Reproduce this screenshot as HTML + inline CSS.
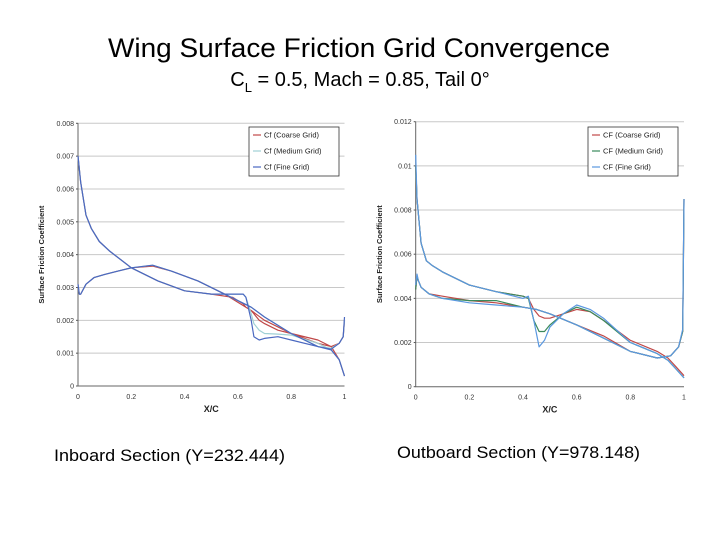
<!DOCTYPE html>
<html><head><meta charset="utf-8">
<style>
html,body{margin:0;padding:0;background:#fff;}
svg{display:block;font-family:"Liberation Sans",sans-serif;}
</style></head>
<body>
<svg id="root" width="720" height="540" viewBox="0 0 720 540" xmlns="http://www.w3.org/2000/svg">
<rect width="720" height="540" fill="#fff"/>
<text x="108" y="57" font-size="27" textLength="502" lengthAdjust="spacingAndGlyphs" fill="#000">Wing Surface Friction Grid Convergence</text>
<text x="360" y="86" font-size="20" text-anchor="middle" fill="#000">C<tspan font-size="13" dy="6">L</tspan><tspan dy="-6"> = 0.5, Mach = 0.85, Tail 0°</tspan></text>
<text x="54" y="461" font-size="17" textLength="231" lengthAdjust="spacingAndGlyphs" fill="#000">Inboard Section (Y=232.444)</text>
<text x="397" y="458" font-size="17" textLength="243" lengthAdjust="spacingAndGlyphs" fill="#000">Outboard Section (Y=978.148)</text>
<g id="chartL"></g>
<g id="chartR"></g>
</svg>
<script>
// ---- Inboard data ----
const inUpperX = [0,0.01,0.03,0.05,0.08,0.12,0.2,0.3,0.4,0.5,0.58,0.6,0.62,0.63,0.65,0.66,0.68,0.7,0.75,0.8,0.9,0.95,0.98,1.0];
const inUpperCoarse = [0.0070,0.0062,0.0052,0.0048,0.0044,0.0041,0.0036,0.0032,0.0029,0.0028,0.0027,0.0026,0.0025,0.0024,0.0023,0.0022,0.0020,0.0019,0.0017,0.0016,0.0014,0.0012,0.0008,0.0003];
const inUpperMedium = [0.0070,0.0062,0.0052,0.0048,0.0044,0.0041,0.0036,0.0032,0.0029,0.0028,0.0028,0.0028,0.0028,0.0027,0.0022,0.0019,0.0017,0.0016,0.00158,0.00155,0.0013,0.0011,0.0008,0.0003];
const inUpperFine = [0.0070,0.0062,0.0052,0.0048,0.0044,0.0041,0.0036,0.0032,0.0029,0.0028,0.0028,0.0028,0.0028,0.0027,0.0020,0.0015,0.0014,0.00145,0.0015,0.0014,0.0012,0.0011,0.0008,0.0003];
const inLowerX = [0,0.005,0.01,0.03,0.06,0.1,0.15,0.2,0.28,0.35,0.45,0.55,0.65,0.7,0.8,0.9,0.95,0.98,0.995,1];
const inLowerCoarse = [0.0031,0.0028,0.0028,0.0031,0.0033,0.0034,0.0035,0.0036,0.00365,0.0035,0.0032,0.0028,0.0023,0.0020,0.0016,0.0013,0.0012,0.0013,0.0015,0.0020];
const inLowerMedium = [0.0031,0.0028,0.0028,0.0031,0.0033,0.0034,0.0035,0.0036,0.00368,0.0035,0.0032,0.0028,0.0024,0.0021,0.0016,0.0012,0.00115,0.0013,0.0015,0.0020];
const inLowerFine = [0.0031,0.0028,0.0028,0.0031,0.0033,0.0034,0.0035,0.0036,0.00368,0.0035,0.0032,0.0028,0.0024,0.0021,0.0016,0.0012,0.00112,0.0013,0.0015,0.0021];
const inYTicks = ["0","0.001","0.002","0.003","0.004","0.005","0.006","0.007","0.008"];
const inYTickVals = [0,0.001,0.002,0.003,0.004,0.005,0.006,0.007,0.008];
const inLegend = ["Cf (Coarse Grid)","Cf (Medium Grid)","Cf (Fine Grid)"];
// ---- Outboard data ----
const outUpperX = [0,0.005,0.02,0.04,0.06,0.1,0.2,0.3,0.4,0.42,0.44,0.46,0.48,0.5,0.55,0.6,0.65,0.7,0.8,0.9,0.94,0.97,1];
const outUpperCoarse = [0.0100,0.0085,0.0065,0.0057,0.0055,0.0052,0.0046,0.0043,0.0041,0.0040,0.0035,0.0032,0.0031,0.0031,0.0033,0.0035,0.0034,0.0030,0.0021,0.0016,0.0013,0.0009,0.0005];
const outUpperMedium = [0.0100,0.0085,0.0065,0.0057,0.0055,0.0052,0.0046,0.0043,0.0041,0.0040,0.0030,0.0025,0.0025,0.0028,0.0033,0.0036,0.0034,0.0030,0.0020,0.0015,0.0012,0.0008,0.0004];
const outUpperFine = [0.0105,0.0085,0.0065,0.0057,0.0055,0.0052,0.0046,0.0043,0.0040,0.0041,0.0030,0.0018,0.0021,0.0027,0.0033,0.0037,0.0035,0.0031,0.0020,0.0015,0.0012,0.0008,0.0004];
const outLowerX = [0,0.005,0.01,0.02,0.05,0.1,0.2,0.3,0.4,0.45,0.5,0.6,0.7,0.8,0.9,0.95,0.98,0.995,1];
const outLowerCoarse = [0.0044,0.0050,0.0048,0.0045,0.0042,0.0041,0.0039,0.0038,0.0036,0.0035,0.0033,0.0028,0.0023,0.0016,0.0013,0.0014,0.0018,0.0025,0.0085];
const outLowerMedium = [0.0044,0.0050,0.0048,0.0045,0.0042,0.0040,0.0039,0.0039,0.0036,0.0035,0.0033,0.0028,0.0022,0.0016,0.0013,0.0014,0.0018,0.0025,0.0085];
const outLowerFine = [0.0046,0.0051,0.0048,0.0045,0.0042,0.0040,0.0038,0.0037,0.0036,0.0035,0.0033,0.0028,0.0022,0.0016,0.0013,0.0014,0.0018,0.0026,0.0085];
const outYTicks = ["0","0.002","0.004","0.006","0.008","0.01","0.012"];
const outYTickVals = [0,0.002,0.004,0.006,0.008,0.01,0.012];
const outLegend = ["CF (Coarse Grid)","CF (Medium Grid)","CF (Fine Grid)"];
const xTicks = ["0","0.2","0.4","0.6","0.8","1"];
const xTickVals = [0,0.2,0.4,0.6,0.8,1];

const NS = "http://www.w3.org/2000/svg";
function mk(tag, attrs, parent){const e=document.createElementNS(NS,tag);for(const k in attrs)e.setAttribute(k,attrs[k]);parent.appendChild(e);return e;}

function drawChart(g, cfg){
  const x = v => cfg.x0 + v*(cfg.x1-cfg.x0);
  const y = v => cfg.y0 - v/cfg.ymax*(cfg.y0-cfg.y1);
  cfg.yVals.forEach((v,i)=>{
    if(v>0){const l=mk('line',{x1:x(0),x2:x(1),y1:y(v),y2:y(v),stroke:'#c8c8c8','stroke-width':1},g);
    
    }
    const t=mk('text',{x:x(0)-4,y:y(v)+2.5,'font-size':7,'text-anchor':'end',fill:'#333'},g);
    t.textContent=cfg.yLabels[i];
    
    
    const tk=mk('line',{x1:x(0)-2,x2:x(0),y1:y(v),y2:y(v),stroke:'#555'},g);
    
    
  });
  xTickVals.forEach((v,i)=>{
    const t=mk('text',{x:x(v),y:cfg.y0+13,'font-size':7,'text-anchor':'middle',fill:'#333'},g);
    t.textContent=xTicks[i];
    
    
  });
  const ax=mk('path',{d:`M${x(0)},${y(cfg.ymax)}V${cfg.y0}H${x(1)}`,fill:'none',stroke:'#666','stroke-width':1},g);
  
  
  const xt=mk('text',{x:(cfg.x0+cfg.x1)/2,y:cfg.y0+26,'font-size':9,'font-weight':'bold','text-anchor':'middle',fill:'#222'},g);
  xt.textContent='X/C';
  
  
  const yt=mk('text',{x:0,y:0,'font-size':7.5,'font-weight':'bold','text-anchor':'middle',fill:'#222',transform:`translate(${cfg.ytx},${(cfg.y0+cfg.y1)/2}) rotate(-90)`},g);
  yt.textContent='Surface Friction Coefficient';
  
  
  cfg.series.forEach(s=>{
    const d1=s.ux.map((v,i)=>(i?'L':'M')+x(v).toFixed(1)+','+y(s.uy[i]).toFixed(1)).join('');
    const d2=s.lx.map((v,i)=>(i?'L':'M')+x(v).toFixed(1)+','+y(s.ly[i]).toFixed(1)).join('');
    const p=mk('path',{d:d1+d2,fill:'none',stroke:s.color,'stroke-width':1.2,'stroke-linejoin':'round'},g);
    
    
  });
  const lg=mk('g',{},g);
  
  
  mk('rect',{x:cfg.lx,y:cfg.ly,width:90,height:49,fill:'#fff',stroke:'#333','stroke-width':0.8},lg);
  cfg.series.forEach((s,i)=>{
    const yy=cfg.ly+8+i*16;
    mk('line',{x1:cfg.lx+4,x2:cfg.lx+12,y1:yy,y2:yy,stroke:s.color,'stroke-width':1.2},lg);
    const t=mk('text',{x:cfg.lx+15,y:yy+2.5,'font-size':7.5,fill:'#222'},lg);
    t.textContent=cfg.legend[i];
    
    
  });
}

drawChart(document.getElementById('chartL'),{
  x0:78,x1:344.5,y0:386,y1:123.3,ymax:0.008,ytx:44,
  yVals:inYTickVals,yLabels:inYTicks,legend:inLegend,lx:249,ly:127,
  series:[
    {name:'coarse-grid-line',color:'#c04848',ux:inUpperX,uy:inUpperCoarse,lx:inLowerX,ly:inLowerCoarse},
    {name:'medium-grid-line',color:'#9fd0d4',ux:inUpperX,uy:inUpperMedium,lx:inLowerX,ly:inLowerMedium},
    {name:'fine-grid-line',color:'#4a68c0',ux:inUpperX,uy:inUpperFine,lx:inLowerX,ly:inLowerFine}
  ]});
drawChart(document.getElementById('chartR'),{
  x0:415.7,x1:684,y0:386.7,y1:121.7,ymax:0.012,ytx:382,
  yVals:outYTickVals,yLabels:outYTicks,legend:outLegend,lx:588,ly:127,
  series:[
    {name:'coarse-grid-line',color:'#c04848',ux:outUpperX,uy:outUpperCoarse,lx:outLowerX,ly:outLowerCoarse},
    {name:'medium-grid-line',color:'#3a8a5c',ux:outUpperX,uy:outUpperMedium,lx:outLowerX,ly:outLowerMedium},
    {name:'fine-grid-line',color:'#5a98e0',ux:outUpperX,uy:outUpperFine,lx:outLowerX,ly:outLowerFine}
  ]});
</script>
</body></html>
